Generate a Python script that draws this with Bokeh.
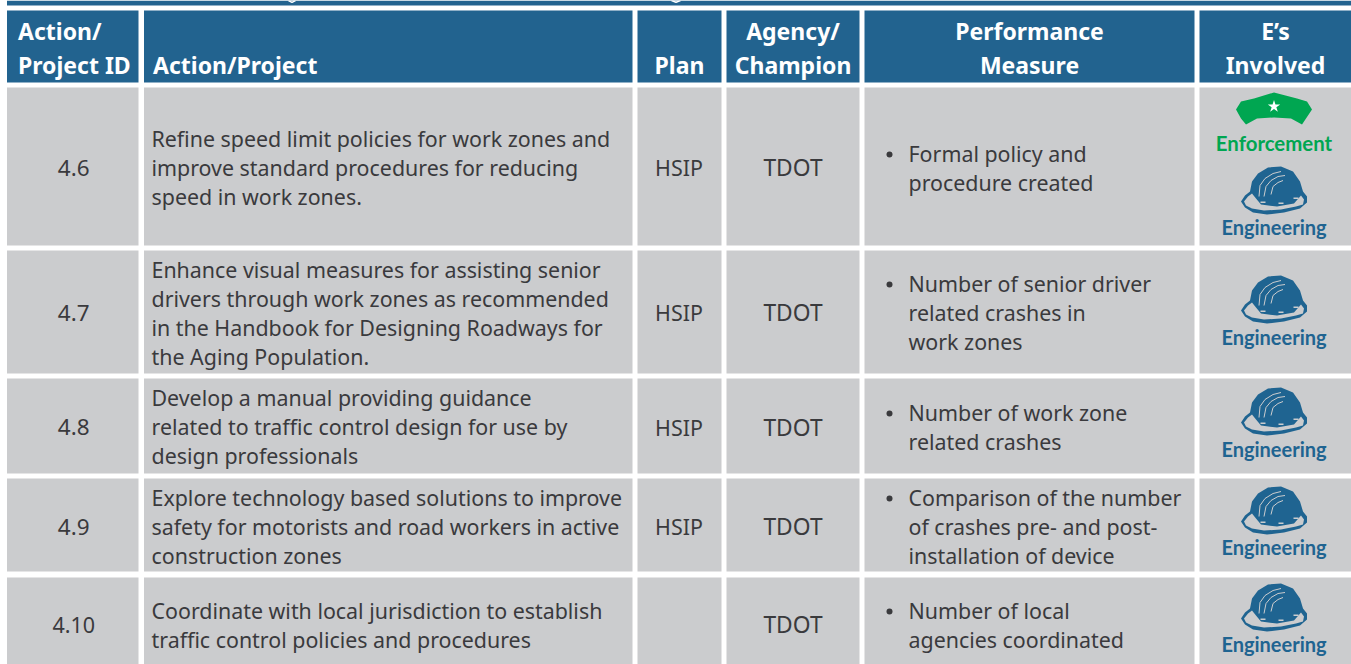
from bokeh.plotting import figure
from bokeh.models import Range1d
from bokeh.core.properties import value
from bokeh.embed import file_html
from bokeh.resources import INLINE

headers = [["Action/", "Project ID"], ["Action/Project"], ["Plan"], ["Agency/", "Champion"],
           ["Performance", "Measure"], ["E\u2019s", "Involved"]]
ids = ["4.6", "4.7", "4.8", "4.9", "4.10"]
actions = [
    ["Refine speed limit policies for work zones and", "improve standard procedures for reducing", "speed in work zones."],
    ["Enhance visual measures for assisting senior", "drivers through work zones as recommended", "in the Handbook for Designing Roadways for", "the Aging Population."],
    ["Develop a manual providing guidance", "related to traffic control design for use by", "design professionals"],
    ["Explore technology based solutions to improve", "safety for motorists and road workers in active", "construction zones"],
    ["Coordinate with local jurisdiction to establish", "traffic control policies and procedures"],
]
plans = ["HSIP", "HSIP", "HSIP", "HSIP", ""]
agencies = ["TDOT"] * 5
measures = [
    ["Formal policy and", "procedure created"],
    ["Number of senior driver", "related crashes in", "work zones"],
    ["Number of work zone", "related crashes"],
    ["Comparison of the number", "of crashes pre- and post-", "installation of device"],
    ["Number of local", "agencies coordinated"],
]
es = [["Enforcement", "Engineering"], ["Engineering"], ["Engineering"], ["Engineering"], ["Engineering"]]

# layout (pixels)
col_l = [6.5, 143.5, 637, 726, 864, 1199]
col_r = [138, 632, 721, 859, 1194, 1351]
row_t = [87, 250, 378, 478, 577]
row_b = [245, 373, 473, 571, 664]
text_y0 = [137.5, 268.5, 396.5, 496.5, 610]
id_y = [167, 312, 426.5, 526, 624]
meas_y0 = [153, 283, 412, 497, 610]
eng_y = [226, 336, 448, 546, 643]
helmet_y = [189, 298, 410, 509, 606]
BLUE = "#22638f"
GREY = "#cbccce"
INK = "#3a3a3d"
GREEN = "#00a651"
ENGB = "#1f6491"
FONT = value("Noto Sans")
CONDENSED = value("Lato")
HEAD = value("Noto Sans")
LH = 29

p = figure(width=1351, height=664, output_backend="svg", toolbar_location=None,
           x_range=Range1d(0, 1351), y_range=Range1d(664, 0), min_border=0,
           outline_line_color=None, background_fill_color="white", border_fill_color="white")
p.axis.visible = False
p.grid.visible = False


def txt(x, y, s, size, color=INK, align="left", style="normal", font=FONT):
    p.text([x], [y], text=[s], text_font=font, text_font_size=size, text_color=color,
           text_align=align, text_baseline="middle", text_font_style=style)


p.quad(left=[6.5], right=[1351], top=[0], bottom=[5], fill_color=BLUE, line_color=None)
for sx, ex in [(288, 295), (671, 680)]:
    p.line([sx, (sx + ex) / 2, ex], [0, 1.8, 0], line_color="white", line_width=1.5)
for l, r, h in zip(col_l, col_r, headers):
    p.quad(left=[l], right=[r], top=[10], bottom=[82], fill_color=BLUE, line_color=None)
    c = (l + r) / 2
    ys = [30.5, 64.5] if len(h) == 2 else [64.5]
    for y, s in zip(ys, h):
        if h[0] == "Action/":
            txt(l + 11, y, s, "23px", "white", "left", "bold", HEAD)
        elif h == ["Action/Project"]:
            txt(l + 9, y, s, "23px", "white", "left", "bold", HEAD)
        else:
            txt(c, y, s, "23px", "white", "center", "bold", HEAD)


def cap(cx, cy):
    xs = [-38, -33, -20, 0, 23, 33, 38, 32, 28, 17, 0, -17, -28, -33]
    ys = [2, -6, -9, -15, -9, -6, 2, 11, 17, 11, 10, 11, 17, 11]
    p.patch([cx + x for x in xs], [cy + y for y in ys], fill_color=GREEN, line_color=None)
    p.scatter([cx], [cy - 1], marker="star", size=13, fill_color="white", line_color=None)


def helmet(cx, cy):
    ox = [-33, -29, -24, -22, -16, -6, 7, 19, 26, 29, 33, 33, 26, 10, -7, -21, -29]
    oy = [12, 6, 2, -8, -16, -22, -23, -18, -8, 2, 7, 13, 19, 23, 25, 23, 18]
    p.patch([cx + x for x in ox], [cy + y for y in oy], fill_color=ENGB, line_color=None)
    ix = [-30, -26, -22, -18, -13, 3, 20, 27, 30, 29, 22, 7, -10, -22, -28]
    iy = [12, 7, 4, 9, 15, 17, 14, 6, 10, 15, 17, 20, 21, 19, 16]
    p.patch([cx + x for x in ix], [cy + y for y in iy], fill_color=GREY, line_color=None)
    for ax, ay in [([-15, -14, -9, -1, 7], [7, -4, -11, -16, -18]),
                   ([-10, -8, -3, 4, 11], [7, -3, -9, -13, -14]),
                   ([-3, -1, 4, 9], [5, -3, -7, -9])]:
        p.line([cx + x for x in ax], [cy + y for y in ay], line_color=GREY, line_width=1.0)
    for nx, ny in [(-11, 12), (7, 13), (22, 8)]:
        p.quad(left=[cx + nx - 2.5], right=[cx + nx + 2.5], top=[cy + ny],
               bottom=[cy + ny + 1.5], fill_color=GREY, line_color=None)


for i in range(5):
    for l, r in zip(col_l, col_r):
        p.quad(left=[l], right=[r], top=[row_t[i]], bottom=[row_b[i]], fill_color=GREY, line_color=None)
    txt((col_l[0] + col_r[0]) / 2 + 1, id_y[i], ids[i], "22.5px" if len(ids[i]) == 3 else "21.5px", align="center")
    for k, s in enumerate(actions[i]):
        txt(151, text_y0[i] + k * LH, s, "21.4px")
    if plans[i]:
        txt((col_l[2] + col_r[2]) / 2 - 0.5, id_y[i], plans[i], "21.4px", align="center")
    txt((col_l[3] + col_r[3]) / 2, id_y[i], agencies[i], "22.8px", align="center")
    p.scatter([889], [meas_y0[i] + 1], marker="circle", size=6, fill_color=INK, line_color=None)
    for k, s in enumerate(measures[i]):
        txt(908, meas_y0[i] + k * LH, s, "21.4px")
    cx = 1273.5
    if "Enforcement" in es[i]:
        cap(cx, 107)
        txt(cx, 142, "Enforcement", "20.4px", GREEN, "center", "bold", CONDENSED)
    helmet(cx, helmet_y[i])
    txt(cx, eng_y[i], "Engineering", "20px", ENGB, "center", "bold", CONDENSED)

open("out.html", "w").write(file_html(p, INLINE))
